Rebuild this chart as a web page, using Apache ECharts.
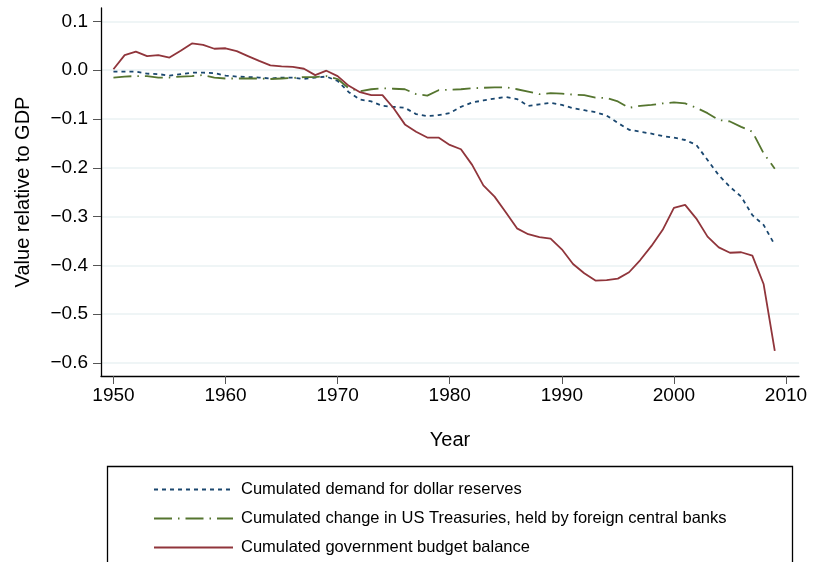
<!DOCTYPE html>
<html lang="en">
<head>
    <meta charset="UTF-8" />
    <title>Cumulated reserves, Treasuries and budget balance</title>
    <script src="https://cdn.jsdelivr.net/npm/echarts@6/dist/echarts.min.js"></script>
</head>
<body style="margin:0;background:#fff">
<div id="main" style="width: 814px;height:562px;"></div>
<script type="text/javascript">
    // data, one value per year 1950-2009
    var years = [];
    for (var y = 1950; y <= 2009; y++) years.push(y);

    var dollarReserves = [
        -0.003, -0.003, -0.003, -0.007, -0.008, -0.011, -0.008, -0.005, -0.005, -0.006,
        -0.011, -0.013, -0.014, -0.015, -0.017, -0.015, -0.015, -0.018, -0.015, -0.013,
        -0.022, -0.045, -0.060, -0.064, -0.073, -0.075, -0.077, -0.090, -0.094, -0.092,
        -0.088, -0.075, -0.066, -0.062, -0.058, -0.055, -0.059, -0.073, -0.070, -0.067,
        -0.071, -0.078, -0.082, -0.086, -0.093, -0.108, -0.122, -0.126, -0.130, -0.135,
        -0.138, -0.143, -0.153, -0.184, -0.215, -0.239, -0.259, -0.297, -0.317, -0.358
    ];
    var treasuries = [
        -0.015, -0.013, -0.012, -0.012, -0.015, -0.015, -0.013, -0.012, -0.010, -0.015,
        -0.017, -0.017, -0.017, -0.017, -0.018, -0.017, -0.016, -0.014, -0.014, -0.012,
        -0.018, -0.037, -0.043, -0.039, -0.037, -0.038, -0.039, -0.049, -0.052, -0.041,
        -0.040, -0.039, -0.037, -0.036, -0.035, -0.035, -0.039, -0.044, -0.049, -0.047,
        -0.048, -0.050, -0.051, -0.056, -0.057, -0.064, -0.077, -0.073, -0.071, -0.068,
        -0.066, -0.068, -0.077, -0.088, -0.102, -0.105, -0.116, -0.126, -0.170, -0.202
    ];
    var budgetBalance = [
        0.002, 0.031, 0.038, 0.029, 0.031, 0.026, 0.040, 0.055, 0.052, 0.044,
        0.045, 0.039, 0.029, 0.019, 0.010, 0.008, 0.007, 0.003, -0.010, -0.001,
        -0.012, -0.032, -0.045, -0.051, -0.051, -0.078, -0.111, -0.126, -0.138, -0.138,
        -0.153, -0.162, -0.194, -0.236, -0.259, -0.291, -0.324, -0.336, -0.342, -0.345,
        -0.367, -0.397, -0.416, -0.431, -0.430, -0.427, -0.414, -0.389, -0.360, -0.327,
        -0.282, -0.276, -0.304, -0.341, -0.363, -0.374, -0.373, -0.380, -0.438, -0.575
    ];
    var xTicks = [1950, 1960, 1970, 1980, 1990, 2000, 2010];
    var yTicks = [0.1, 0, -0.1, -0.2, -0.3, -0.4, -0.5, -0.6];
    var seriesNames = [
        'Cumulated demand for dollar reserves',
        'Cumulated change in US Treasuries, held by foreign central banks',
        'Cumulated government budget balance'
    ];

    function pairs(vals) {
        var out = [];
        for (var i = 0; i < vals.length; i++) out.push([years[i], vals[i]]);
        return out;
    }

    var font = '"Liberation Sans", Arial, sans-serif';
    var myChart = echarts.init(document.getElementById('main'));
    var option = {
        backgroundColor: '#fff',
        animation: false,
        textStyle: { fontFamily: font },
        grid: { left: 101, right: 15, top: 8, bottom: 186 },
        xAxis: {
            type: 'value',
            min: 1948.89,
            max: 2011.16,
            name: 'Year',
            nameLocation: 'middle',
            nameGap: 54,
            nameTextStyle: { fontSize: 20, color: '#000', fontFamily: font },
            axisLine: { onZero: false, lineStyle: { color: '#000', width: 1.3 } },
            axisTick: { customValues: xTicks, length: 8, lineStyle: { color: '#555' } },
            axisLabel: {
                customValues: xTicks, fontSize: 19, color: '#000', margin: 10, fontFamily: font,
                formatter: function (v) { return String(v); }
            },
            splitLine: { show: false }
        },
        yAxis: {
            type: 'value',
            min: -0.6266,
            max: 0.1275,
            name: 'Value relative to GDP',
            nameLocation: 'middle',
            nameRotate: 90,
            nameGap: 68,
            nameTextStyle: { fontSize: 20, color: '#000', fontFamily: font },
            axisLine: { show: true, lineStyle: { color: '#000', width: 1.3 } },
            axisTick: { show: true, customValues: yTicks, length: 8, lineStyle: { color: '#555' } },
            axisLabel: {
                customValues: yTicks, fontSize: 19, color: '#000', margin: 13, fontFamily: font,
                formatter: function (v) {
                    var s = Math.abs(v).toFixed(1);
                    return v < -1e-9 ? '\u2212' + s : s;
                }
            },
            splitLine: { show: true, lineStyle: { color: '#eaf2f3', width: 1.5 } }
        },
        legend: {
            orient: 'vertical',
            left: 148,
            top: 476,
            itemWidth: 79,
            itemHeight: 14,
            itemGap: 12,
            data: seriesNames,
            itemStyle: { opacity: 0 },
            textStyle: { fontSize: 16.5, color: '#000', padding: [0, 0, 0, 3], fontFamily: font }
        },
        graphic: [{
            type: 'rect',
            shape: { x: 107.5, y: 466.5, width: 685, height: 120 },
            style: { fill: 'none', stroke: '#000', lineWidth: 1.3 },
            silent: true
        }],
        series: [
            {
                name: seriesNames[0], type: 'line', symbol: 'none',
                data: pairs(dollarReserves),
                lineStyle: { color: '#1a476f', width: 1.8, type: [4, 4] },
                itemStyle: { color: '#1a476f' }
            },
            {
                name: seriesNames[1], type: 'line', symbol: 'none',
                data: pairs(treasuries),
                lineStyle: { color: '#55752f', width: 1.8, type: [18, 6, 1.5, 6] },
                itemStyle: { color: '#55752f' }
            },
            {
                name: seriesNames[2], type: 'line', symbol: 'none',
                data: pairs(budgetBalance),
                lineStyle: { color: '#90353b', width: 1.8 },
                itemStyle: { color: '#90353b' }
            }
        ]
    };
    myChart.setOption(option);
</script>
</body>
</html>
